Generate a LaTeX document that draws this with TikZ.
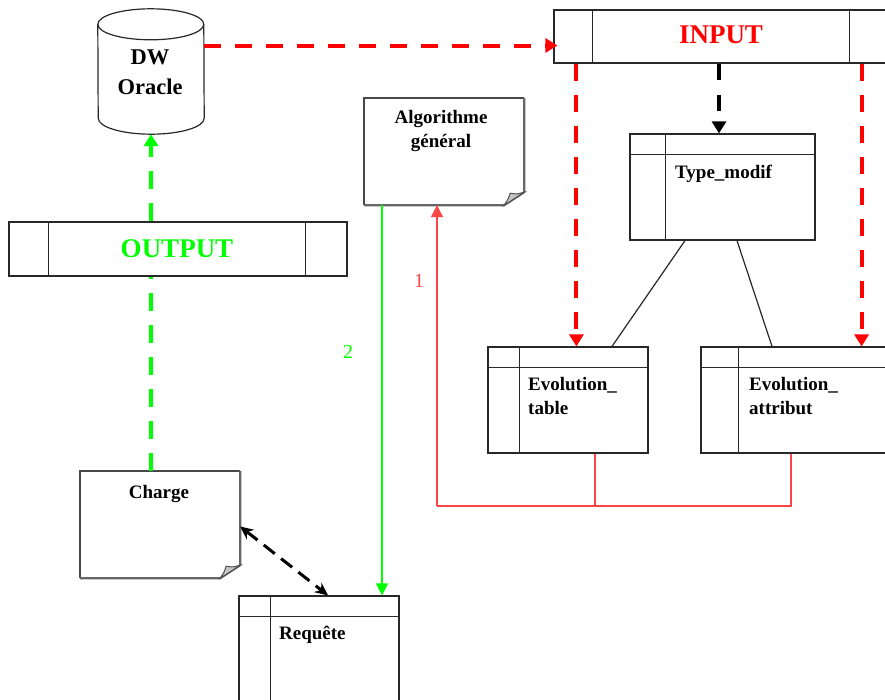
\documentclass[tikz,border=0pt]{standalone}
\usepackage{fontspec}
\setmainfont{Liberation Serif}
\usetikzlibrary{arrows.meta}
\definecolor{pureRed}{RGB}{255,0,0}
\definecolor{pureGreen}{RGB}{0,255,0}
\definecolor{softRed}{RGB}{250,70,70}
\definecolor{edgeGray}{RGB}{40,40,40}
\tikzset{
  table/.style={draw=edgeGray,fill=white,line width=1.2pt,minimum width=#1,inner sep=0pt},
  divider/.style={draw=edgeGray,line width=1.2pt},
  boxtitle/.style={font=\fontsize{19}{24.5}\selectfont\bfseries,inner sep=0pt,align=left},
  bigtitle/.style={font=\fontsize{27}{30}\selectfont\bfseries,inner sep=0pt},
  number/.style={font=\fontsize{20}{24}\selectfont,inner sep=0pt},
  redflow/.style={draw=pureRed,line width=4pt,dash pattern=on 17pt off 14pt,-{Triangle[length=12pt,width=14pt]}},
  blackflow/.style={draw=black,line width=4pt,dash pattern=on 16pt off 15pt,-{Triangle[length=12pt,width=14pt]}},
  greenflow/.style={draw=pureGreen,line width=4pt,dash pattern=on 18pt off 14pt},
  thinred/.style={draw=softRed,line width=1.2pt},
  thingreen/.style={draw=pureGreen,line width=1.2pt}
}
\newcommand{\foldnote}[1]{
\draw[draw=edgeGray!85,line width=1.5pt] (#1.south west) -- (#1.north west) -- (#1.north east);
\draw[draw=gray!80!black,line width=2.2pt] (#1.north east) -- ([yshift=13pt]#1.south east) -- ([xshift=-20pt]#1.south east) -- (#1.south west);
\draw[draw=edgeGray!80,fill=gray!45,line width=1pt] ([xshift=-20pt]#1.south east) .. controls ([xshift=-16pt,yshift=6pt]#1.south east) .. ([xshift=-14pt,yshift=12pt]#1.south east) .. controls ([xshift=-7pt,yshift=11pt]#1.south east) .. ([yshift=13pt]#1.south east) -- cycle;
}
\newcommand{\tablelines}[3]{
\draw[divider] ([xshift=#2]#1.north west) -- ([xshift=#2]#1.south west);
\draw[divider] ([yshift=-#3]#1.north west) -- ([yshift=-#3]#1.north east);
}
\begin{document}
\begin{tikzpicture}[x=1pt,y=-1pt]
\path[use as bounding box,fill=white] (0,0) rectangle (885,699);
% data warehouse
\node[minimum width=106pt,minimum height=125pt,inner sep=0pt] (dw) at (151,71.5) {};
\draw[divider,fill=white] ([yshift=-15.5pt]dw.north west) arc[start angle=180,end angle=0,x radius=53pt,y radius=15.5pt] -- ([yshift=16pt]dw.south east) arc[start angle=0,end angle=-180,x radius=53pt,y radius=16pt] -- cycle;
\draw[divider] ([yshift=-15.5pt]dw.north west) arc[start angle=180,end angle=360,x radius=53pt,y radius=15.5pt];
\node[font=\fontsize{22.5}{30}\selectfont\bfseries,align=center,inner sep=0pt] (dwtext) at (150,72.5) {DW\\Oracle};
% wide boxes
\node[table=338pt,minimum height=54pt] (output) at (178,249) {};
\draw[divider] ([xshift=40pt]output.north west) -- ([xshift=40pt]output.south west);
\draw[divider] ([xshift=-42pt]output.north east) -- ([xshift=-42pt]output.south east);
\node[bigtitle,text=pureGreen] (outputtext) at (177,248.5) {OUTPUT};
\node[table=340pt,minimum height=53pt] (input) at (724,36.5) {};
\draw[divider] ([xshift=39pt]input.north west) -- ([xshift=39pt]input.south west);
\draw[divider] ([xshift=-45pt]input.north east) -- ([xshift=-45pt]input.south east);
\node[bigtitle,text=pureRed] (inputtext) at (721,34.5) {INPUT};
% tables
\node[table=185pt,minimum height=106pt] (typemodif) at (722.5,187) {};
\tablelines{typemodif}{36pt}{21pt}
\node[boxtitle,anchor=west] (typemodiftext) at (675,174) {Type\_modif};
\node[table=160pt,minimum height=106pt] (evoltable) at (568,400) {};
\tablelines{evoltable}{32pt}{21pt}
\node[boxtitle,anchor=west] (evoltabletext) at (528,396) {Evolution\_\\table};
\node[table=190pt,minimum height=106pt] (evolattrib) at (796,400) {};
\tablelines{evolattrib}{38pt}{21pt}
\node[boxtitle,anchor=west] (evolattribtext) at (749,396) {Evolution\_\\attribut};
\node[table=160pt,minimum height=130pt] (requete) at (319,661) {};
\tablelines{requete}{32pt}{21pt}
\node[boxtitle,anchor=west] (requetetext) at (279,635) {Requête};
% notes
\node[minimum width=160pt,minimum height=107pt,inner sep=0pt] (algo) at (444,151.5) {};
\foldnote{algo}
\node[boxtitle,align=center] (algotext) at (441,131) {Algorithme\\général};
\node[minimum width=160pt,minimum height=107pt,inner sep=0pt] (charge) at (160,524.5) {};
\foldnote{charge}
\node[boxtitle] (chargetext) at (159,494) {Charge};
% flows
\draw[redflow] (dw.east |- input.west) ++(0,9) coordinate (dwout) -- ([xshift=4pt]input.west |- dwout);
\draw[redflow] ([xshift=23pt]input.south west) -- ([xshift=23pt]input.south west |- evoltable.north);
\draw[redflow] ([xshift=-33pt]input.south east) -- ([xshift=-33pt]input.south east |- evolattrib.north);
\draw[blackflow] (input.south -| typemodif.north) ++(-3.5,0) coordinate (blackstart) -- (blackstart |- typemodif.north);
\draw[greenflow,-{Triangle[length=12pt,width=14pt]}] (dw.south |- output.north) -- (dw.south);
\draw[greenflow] (charge.north -| dw.south) -- (dw.south |- output.south);
\draw[divider] ([xshift=-37.5pt]typemodif.south) -- ([xshift=44pt]evoltable.north);
\draw[divider] ([xshift=14.5pt]typemodif.south) -- ([xshift=-24pt]evolattrib.north);
\draw[draw=black,line width=3pt,dash pattern=on 14pt off 8pt,{Stealth[length=13pt,width=12pt]}-{Stealth[length=13pt,width=12pt]}] ([yshift=-2pt]charge.east) -- ([xshift=9pt]requete.north);
\draw[thinred] ([xshift=27pt]evoltable.south) |- (437,506) coordinate (redcorner);
\draw[thinred] ([xshift=-5pt]evolattrib.south) |- (redcorner);
\draw[thinred,-{Triangle[length=12pt,width=12pt]}] (redcorner) -- (redcorner |- algo.south);
\draw[thingreen,-{Triangle[length=12pt,width=12pt]}] (382,205) coordinate (greenstart) -- (greenstart |- requete.north);
\node[number,text=softRed] (one) at (419,281) {1};
\node[number,text=pureGreen] (two) at (348,352) {2};
\end{tikzpicture}
\end{document}
